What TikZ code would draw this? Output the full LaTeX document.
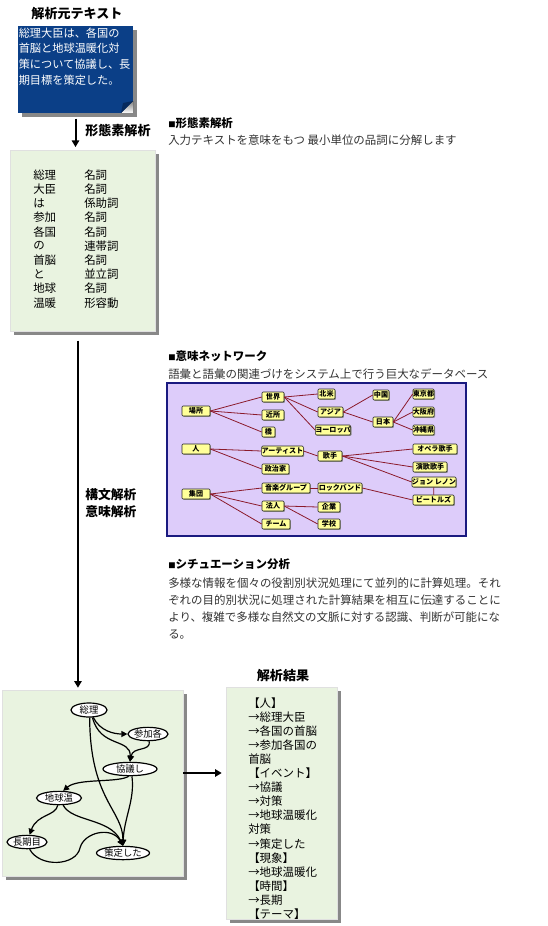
\documentclass[tikz,border=0pt]{standalone}
\usepackage{fontspec}
\setmainfont{Noto Sans CJK JP}
\usepackage{tikz}
\usetikzlibrary{arrows.meta,shapes.geometric,shadows,fit}
\definecolor{navy}{HTML}{0B3F87}
\definecolor{fold}{HTML}{062A5E}
\definecolor{padfill}{HTML}{E9F3E0}
\definecolor{lilac}{HTML}{DDCCFA}
\definecolor{frame}{HTML}{1A1A80}
\definecolor{tag}{HTML}{FFFF99}
\definecolor{wine}{HTML}{8B1A2B}
\definecolor{ink}{HTML}{333333}
\definecolor{shade}{HTML}{888888}
\tikzset{
  sheet/.style={fill=padfill, draw=black!12, inner sep=0pt,
    drop shadow={shadow xshift=3pt, shadow yshift=-3pt, fill=shade, opacity=1}},
  note/.style={fill=navy, inner sep=0pt,
    drop shadow={shadow xshift=3pt, shadow yshift=-3pt, fill=shade, opacity=1}},
  word/.style={draw=black!85, fill=tag, rounded corners=0.8pt, inner sep=0pt,
    minimum height=7.5pt, font=\fontsize{5.3}{5.5}\selectfont\bfseries,
    drop shadow={shadow xshift=0.7pt, shadow yshift=-0.7pt, fill=black!45, opacity=1}},
  wire/.style={draw=wine, line width=0.6pt},
  bub/.style={ellipse, draw, fill=white, line width=0.9pt, inner sep=0pt,
    minimum height=10pt, font=\fontsize{7}{8}\selectfont},
  arr/.style={draw, line width=0.9pt, -{Triangle[length=4.5pt,width=4.5pt]}},
  flow/.style={draw, line width=1.5pt, -{Triangle[length=5pt,width=5.5pt]}},
  lab/.style={text=ink, anchor=west, inner sep=0pt, font=\fontsize{8.6}{10}\selectfont},
  labb/.style={text=black, anchor=west, inner sep=0pt, font=\fontsize{8.6}{10}\selectfont\bfseries},
  ttl/.style={inner sep=0pt, font=\fontsize{9.8}{11}\selectfont\bfseries},
}
\newcommand{\sq}{{\fontsize{5.5}{5}\selectfont■}}

\begin{document}
\begin{tikzpicture}[x=0.75pt,y=-0.75pt]
  \path[use as bounding box, fill=white] (0,0) rectangle (548,926);

  \node[ttl] (srct) at (77,14) {解析元テキスト};
  \node[note, fit={(18,26) (133,113)}] (src) {};
  \fill[shade] (121,113) -- (133,113) -- (133,101) -- cycle;
  \fill[fold] (121,113) -- (133,101) -- (123,103) -- cycle;
  \foreach \t [count=\i] in {総理大臣は、各国の,首脳と地球温暖化対,策について協議し、長,期目標を策定した。}
    \node[lab, text=white, font=\fontsize{8.4}{10}\selectfont] (src\i) at (18.5,{17.3+15.7*\i}) {\t};

  \node[sheet, fit={(10,150) (155,331)}] (morph) {};
  \draw[flow, shorten <=4pt, shorten >=2pt] (src.south) -- (src.south |- morph.north);
  \node[labb, font=\fontsize{9.8}{11}\selectfont\bfseries] (morphl) at (85,131) {形態素解析};
  \foreach \w/\p [count=\i] in {総理/名詞,大臣/名詞,は/係助詞,参加/名詞,各国/名詞,の/連帯詞,首脳/名詞,と/並立詞,地球/名詞,温暖/形容動}{
    \node[lab, text=black] (w\i) at (33,{160.8+14.2*\i}) {\w};
    \node[lab, text=black] (p\i) at (84,{160.8+14.2*\i}) {\p};
  }

  \node[labb] (h1) at (168,123) {\sq 形態素解析};
  \node[lab] (d1) at (168,140) {入力テキストを意味をもつ 最小単位の品詞に分解します};

  \node[labb] (h2) at (168,356) {\sq 意味ネットワーク};
  \node[lab] (d2) at (168,374) {語彙と語彙の関連づけをシステム上で行う巨大なデータベース};
  \node[fit={(167,383) (466,536)}, fill=lilac, draw=frame, line width=1pt, inner sep=0pt] (net) {};
  \foreach \n/\x/\y/\w/\t in {basho/196/411/28/場所, sekai/273/397/22/世界, kinjo/273/415/22/近所,
      hashi/268.5/432/13/橋, hokubei/326.5/394/17/北米, ajia/330.5/412/25/アジア,
      europe/333/430/30/ヨーロッパ, chugoku/381/395/16/中国, nihon/383/422/20/日本,
      tokyo/423.5/394/21/東京都, osaka/423.5/412/21/大阪府, okinawa/423.5/430/21/沖縄県,
      hito/196/449/28/人, artist/282.5/451/41/アーティスト, seiji/275.5/469/27/政治家,
      kashu/330/456/24/歌手, opera/435/449/44/オペラ歌手, enka/430/467/34/演歌歌手,
      lennon/434/482/42/ジョン レノン, beatles/433.5/500/41/ビートルズ,
      shudan/196/494/28/集団, ongaku/286/488/48/音楽グループ, rock/340/488/44/ロックバンド,
      hojin/273/506/22/法人, kigyo/329/507/22/企業, team/276/524/28/チーム, gakko/329/524/22/学校}
    \node[word, minimum width={0.75pt*\w}] (\n) at (\x,\y) {\t};
  \foreach \a/\b in {basho/sekai, basho/kinjo, basho/hashi, sekai/hokubei, sekai/ajia, sekai/europe,
      ajia/chugoku, ajia/nihon, nihon/tokyo, nihon/osaka, nihon/okinawa,
      hito/artist, hito/seiji, artist/kashu, kashu/opera, kashu/enka, kashu/lennon,
      shudan/ongaku, shudan/hojin, shudan/team, ongaku/rock, rock/beatles, hojin/kigyo, hojin/gakko}
    \draw[wire] (\a.east) -- (\b.west);
  \draw[wire] (lennon) -- (beatles);

  \node[labb] (h3) at (168,564) {\sq シチュエーション分析};
  \foreach \t [count=\i] in {多様な情報を個々の役割別状況処理にて並列的に計算処理。それ,
      ぞれの目的別状況に処理された計算結果を相互に伝達することに,
      より、複雑で多様な自然文の文脈に対する認識、判断が可能にな, る。}
    \node[lab] (s\i) at (168,{565.5+17.3*\i}) {\t};

  \node[sheet, fit={(2,690) (183,876)}] (graph) {};
  \draw[flow, shorten <=7pt, shorten >=1.5pt] ([xshift=-3.4pt]morph.south) -- ([xshift=-3.4pt]morph.south |- graph.north);
  \node[labb, font=\fontsize{9.6}{11}\selectfont\bfseries] (syn) at (85,495) {構文解析};
  \node[labb, font=\fontsize{9.6}{11}\selectfont\bfseries] (sem) at (85,512) {意味解析};

  \node[bub, minimum width=27pt, minimum height=10.5pt] (somu) at (89,710) {総理};
  \node[bub, minimum width=30pt] (sanka) at (148,734) {参加各};
  \node[bub, minimum width=40.5pt] (kyogi) at (130,769) {協議し};
  \node[bub, minimum width=33.75pt] (chikyu) at (59,798) {地球温};
  \node[bub, minimum width=30pt] (choki) at (27,842) {長期目};
  \node[bub, minimum width=39.75pt] (sakutei) at (123,853) {策定した};
  \draw[arr] (somu.-60) .. controls (100,731) and (114,734) .. (sanka.west);
  \draw[arr] (somu.-65) .. controls (100,748) and (131,738) .. (kyogi.north);
  \draw[arr] (sanka.-80) .. controls (151,752) and (133,746) .. (kyogi.north);
  \draw[arr] (somu.-85) .. controls (90,800) and (123,810) .. (sakutei.north);
  \draw[arr] (kyogi.-75) .. controls (135,800) and (124,818) .. (sakutei.north);
  \draw[arr] (kyogi.-100) .. controls (118,783) and (78,778) .. (chikyu.60);
  \draw[arr] (chikyu.-100) .. controls (56,816) and (37,814) .. (choki.70);
  \draw[arr] (chikyu.-60) .. controls (72,822) and (110,818) .. (sakutei.north);
  \draw[arr] (choki.-70) .. controls (40,868) and (76,866) .. (80,848) .. controls (84,832) and (112,826) .. (sakutei.north);

  \node[sheet, fit={(226,687) (337,919)}] (res) {};
  \node[ttl] (rest) at (283,676) {解析結果};
  \draw[flow, shorten >=3pt] ([yshift=7.5pt]graph.east) -- ([yshift=7.5pt]graph.east -| res.west);
  \foreach \t [count=\i] in {【人】,→総理大臣,→各国の首脳,→参加各国の,首脳,【イベント】,→協議,→対策,
      →地球温暖化,対策,→策定した,【現象】,→地球温暖化,【時間】,→長期,【テーマ】}
    \node[lab, text=black] (r\i) at (248,{688.9+14.07*\i}) {\t};
\end{tikzpicture}
\end{document}
